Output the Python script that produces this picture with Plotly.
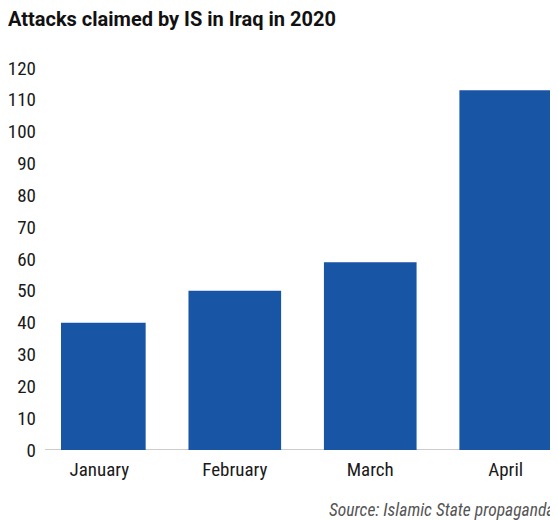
import plotly.graph_objects as go

months = ["January", "February", "March", "April"]
attacks = [40, 50, 59, 113]
y_ticks = [0, 10, 20, 30, 40, 50, 60, 70, 80, 90, 100, 110, 120]

# page has an 8px body margin, so the figure is placed at (8, 8)
W, H = 550, 512
L, R, T, B = 51, 0, 60, 70

FONT = "Roboto Condensed, DejaVu Sans Condensed, Liberation Sans Narrow, Arial Narrow, Roboto, sans-serif"
TITLE_FONT = "Roboto, Liberation Sans, Arial, sans-serif"

fig = go.Figure(
    go.Bar(
        x=months,
        y=attacks,
        marker=dict(color="#1955a5", line=dict(width=0)),
        width=0.684,
        hoverinfo="x+y",
    )
)

PW = W - L - R
PH = H - T - B

fig.update_layout(
    width=W,
    height=H,
    margin=dict(l=L, r=R, t=T, b=B, pad=0),
    paper_bgcolor="white",
    plot_bgcolor="white",
    showlegend=False,
    font=dict(family=FONT, color="#1a1a1a", size=19),
    xaxis=dict(
        type="category",
        range=[-0.283, 3.386],
        showgrid=False,
        zeroline=False,
        showline=False,
        ticks="",
        ticklabelstandoff=6,
        tickfont=dict(family=FONT, size=19, color="#1a1a1a"),
        fixedrange=True,
    ),
    yaxis=dict(
        range=[0, 120],
        tickvals=y_ticks,
        showgrid=False,
        zeroline=False,
        showline=False,
        ticks="",
        ticklabelstandoff=24,
        tickfont=dict(family=FONT, size=19, color="#1a1a1a"),
        fixedrange=True,
    ),
    shapes=[
        dict(
            type="line", xref="paper", yref="y",
            x0=-16 / PW, x1=1, y0=0, y1=0,
            line=dict(color="#cccccc", width=2), layer="below",
        )
    ],
    annotations=[
        dict(
            text="<b>Attacks claimed by IS in Iraq in 2020</b>",
            xref="paper", yref="paper",
            x=(4 - 8 - L) / PW, y=1 + (T - (19 - 8)) / PH,
            xanchor="left", yanchor="middle", showarrow=False,
            font=dict(family=TITLE_FONT, size=20, color="#111111"),
        ),
        dict(
            text="<i>Source: Islamic State propaganda</i>",
            xref="paper", yref="paper",
            x=(557 - 8 - L) / PW, y=-((510 - 8) - (H - B)) / PH,
            xanchor="right", yanchor="middle", showarrow=False,
            font=dict(family=FONT, size=17.5, color="#555555"),
        ),
    ],
)

fig.write_html("out.html")
